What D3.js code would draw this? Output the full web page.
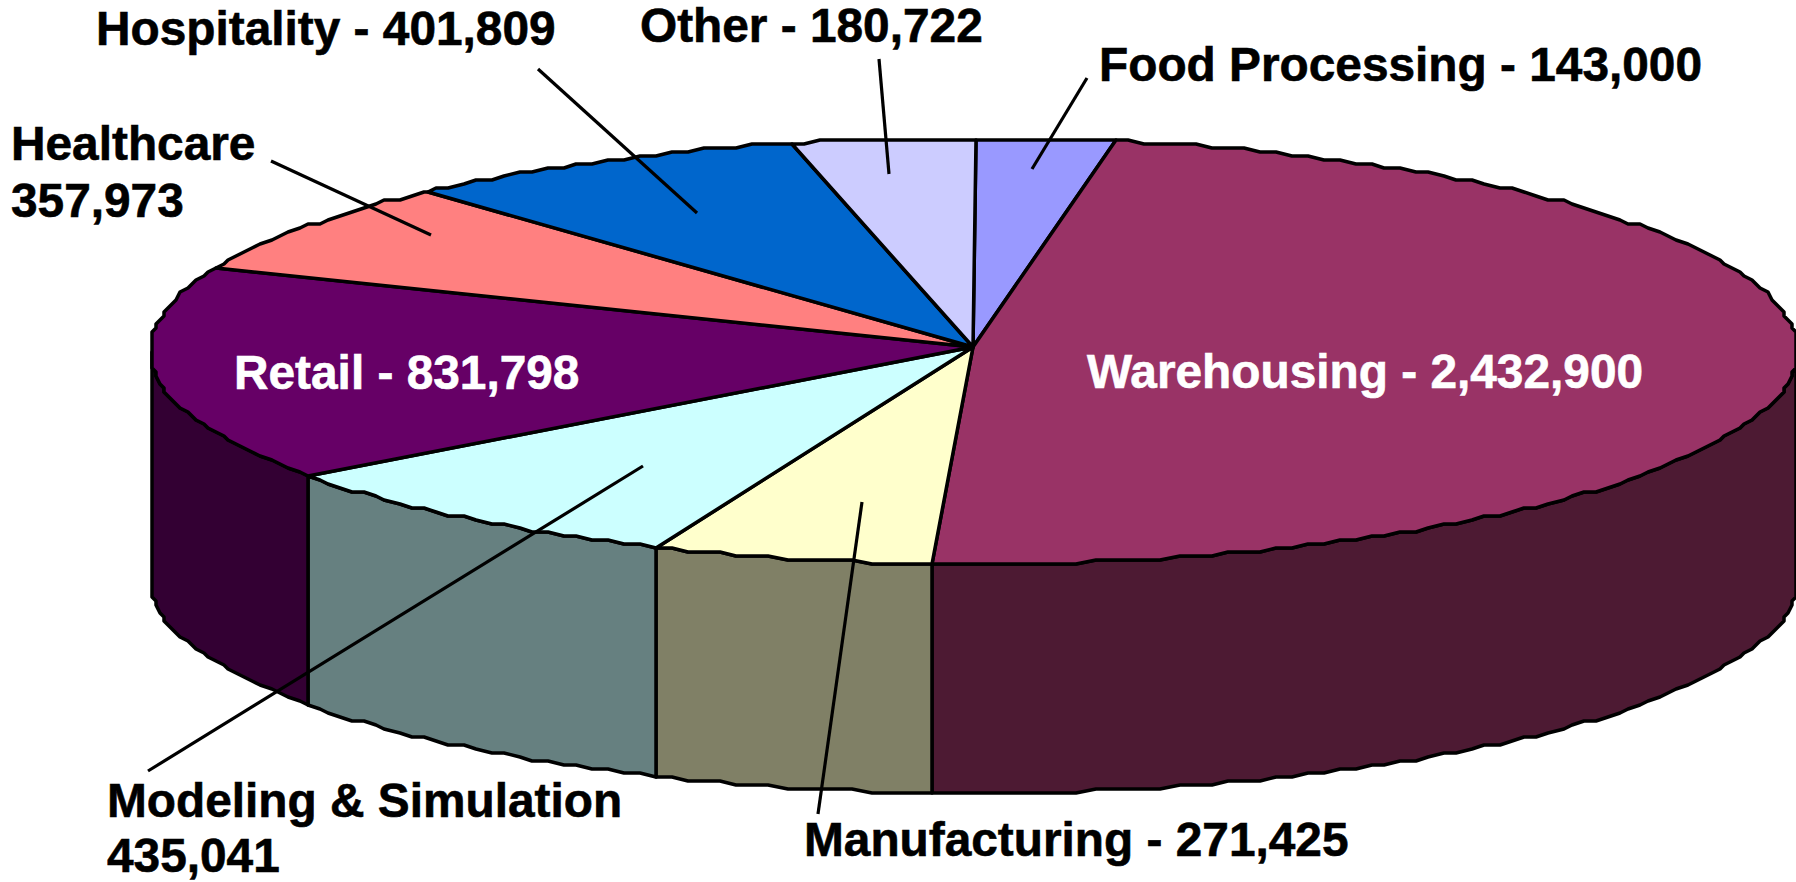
<!DOCTYPE html>
<html>
<head>
<meta charset="utf-8">
<script src="https://cdn.jsdelivr.net/npm/d3@7"></script>
<style>
html,body{margin:0;padding:0;background:#fff;overflow:hidden}
svg{display:block}
text{font-family:"Liberation Sans",Arial,sans-serif;font-weight:700}
</style>
</head>
<body>
<svg id="chart" width="1796" height="882"></svg>
<script>
const categories = ["Food Processing","Warehousing","Manufacturing","Modeling & Simulation","Retail","Healthcare","Hospitality","Other"];
const seriesValues = [143000,2432900,271425,435041,831798,357973,401809,180722];
const topColors = ["#9999FF","#993366","#FFFFCC","#CCFFFF","#660066","#FF8080","#0066CC","#CCCCFF"];
const sideColors = ["#4D4D80","#4D1A33","#808066","#668080","#330033","#804040","#003366","#666680"];

const W = 1796, H = 882;
const cx = 974, cy = 351, rx = 823, ry = 213, depth = 229, grid = 4, stepDeg = 1.2;
const apex = [973, 347];
// small drawn offset (degrees) of each slice's end edge, to follow the source's projection
const edgeNudge = [-0.3,-0.46,0,0.45,0,0,0,0];
const svg = d3.select("#chart");
const sx = d3.scaleLinear().domain([-1,1]).range([cx-rx,cx+rx]);
const sy = d3.scaleLinear().domain([-1,1]).range([cy-ry,cy+ry]);
const snap = v => Math.round(v/grid)*grid;
const pt = a => [snap(sx(Math.sin(a))), snap(sy(-Math.cos(a)))];
const st = stepDeg*Math.PI/180;
// samples sit on one shared angle grid so neighbouring faces share the same outline
function arcPts(a0,a1){
  const out=[pt(a0)];
  for(let k=Math.floor(a0/st)+1; k*st<a1; k++) out.push(pt(k*st));
  out.push(pt(a1));
  return out;
}
const line = d3.line();
const arcs = d3.pie().sort(null).value(d=>d)(seriesValues);
const PI = Math.PI;
const edges = arcs.map((d,i)=>d.endAngle + edgeNudge[i]*PI/180);
const startOf = i => i===0 ? arcs[0].startAngle : edges[i-1];

// side walls (only the front half of the disc)
const g = svg.append("g").attr("stroke","#000").attr("stroke-linejoin","round");
arcs.forEach((d,i)=>{
  const a0 = Math.max(startOf(i),PI/2), a1 = Math.min(edges[i],3*PI/2);
  if(a1<=a0) return;
  const top = arcPts(a0,a1);
  const bottom = top.map(p=>[p[0],p[1]+depth]).reverse();
  g.append("path").attr("d",line(top.concat(bottom))+"Z")
    .attr("fill",sideColors[i]).attr("stroke-width",3.5);
});
// top faces
arcs.forEach((d,i)=>{
  const pts = [apex].concat(arcPts(startOf(i),edges[i]));
  g.append("path").attr("d",line(pts)+"Z").attr("fill",topColors[i]).attr("stroke-width",3.5);
});

// leader lines: from label towards the slice
const leaders = [
  [[1087,78],[1032,169]],
  null,
  [[818,814],[862,502]],
  [[148,771],[643,466]],
  null,
  [[271,161],[431,235]],
  [[538,69],[697,213]],
  [[879,59],[889,174]]
];
leaders.forEach(l=>{ if(l) svg.append("path").attr("d",line(l)).attr("stroke","#000").attr("stroke-width",3.2).attr("fill","none"); });

// labels
const fmt = d3.format(",");
const labelRows = [
  [[`${categories[0]} - ${fmt(seriesValues[0])}`,1099,81,"#000"]],
  [[`${categories[1]} - ${fmt(seriesValues[1])}`,1087,388,"#fff"]],
  [[`${categories[2]} - ${fmt(seriesValues[2])}`,804,856,"#000"]],
  [[categories[3],107,817,"#000"],[fmt(seriesValues[3]),107,871.5,"#000"]],
  [[`${categories[4]} - ${fmt(seriesValues[4])}`,234,389,"#fff"]],
  [[categories[5],11,160,"#000"],[fmt(seriesValues[5]),11,217,"#000"]],
  [[`${categories[6]} - ${fmt(seriesValues[6])}`,96,45,"#000"]],
  [[`${categories[7]} - ${fmt(seriesValues[7])}`,640,42,"#000"]]
];
labelRows.flat().forEach(r=>{
  svg.append("text").attr("x",r[1]).attr("y",r[2]).attr("fill",r[3]).attr("stroke",r[3]).attr("stroke-width",0.6).attr("font-size",47.8).text(r[0]);
});
</script>
</body>
</html>
